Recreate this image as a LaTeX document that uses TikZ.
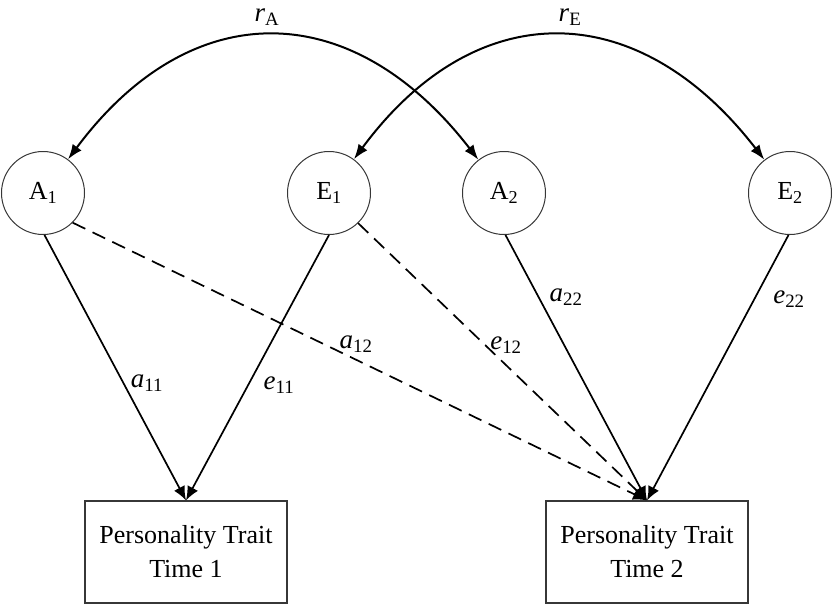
\documentclass[tikz,border=0pt]{standalone}
\usepackage{fontspec}
\setmainfont{Liberation Serif}
\usetikzlibrary{arrows.meta}

\begin{document}
\begin{tikzpicture}[x=1pt,y=-1pt,
	latent/.style={circle,draw=mygrey,line width=1pt,minimum size=83pt,inner sep=0pt,font=\fontsize{26}{30}\selectfont},
	trait/.style={rectangle,draw=mygrey,line width=1.2pt,minimum width=202pt,minimum height=102pt,align=center,font=\fontsize{26}{34}\selectfont},
	coef/.style={inner sep=0pt,font=\fontsize{27}{30}\selectfont},
	load/.style={-{Latex[length=14pt,width=12pt]},line width=1.7pt},
	cross/.style={load,dash pattern=on 14pt off 8pt},
	cov/.style={{Latex[length=15pt,width=11pt]}-{Latex[length=15pt,width=11pt]},line width=2pt}]
	\definecolor{mygrey}{RGB}{55,55,55}
	\useasboundingbox (0,0) rectangle (833,605);
	\node[latent] (a1) at (43,193) {A\textsubscript{1}};
	\node[latent] (e1) at (329,193) {E\textsubscript{1}};
	\node[latent] (a2) at (504,193) {A\textsubscript{2}};
	\node[latent] (e2) at (790,193) {E\textsubscript{2}};
	\node[trait] (t1) at (186,552) {Personality Trait\\Time 1};
	\node[trait] (t2) at (647,552) {Personality Trait\\Time 2};
	\draw[cov] (a2) .. controls (352,-4) and (191,-6) .. (a1);
	\draw[cov] (e1) .. controls (476,-6) and (638,-4) .. (e2);
	\node[coef] (ra) at (267,17) {\textit{r}\textsubscript{A}};
	\node[coef] (re) at (570,17) {\textit{r}\textsubscript{E}};
	\draw[load] (a1.-88) -- (t1.north);
	\draw[load] (e1.south) -- (t1.north);
	\draw[cross] (a1.-45) -- (t2.north);
	\draw[cross] (e1.-46) -- (t2.north);
	\draw[load] (a2.-88) -- (t2.north);
	\draw[load] (e2.-92) -- (t2.north);
	\node[coef] (la11) at (147,383) {\textit{a}\textsubscript{11}};
	\node[coef] (le11) at (279,385) {\textit{e}\textsubscript{11}};
	\node[coef] (la12) at (356,344) {\textit{a}\textsubscript{12}};
	\node[coef] (le12) at (506,345) {\textit{e}\textsubscript{12}};
	\node[coef] (la22) at (566,297) {\textit{a}\textsubscript{22}};
	\node[coef] (le22) at (789,299) {\textit{e}\textsubscript{22}};
\end{tikzpicture}
\end{document}
